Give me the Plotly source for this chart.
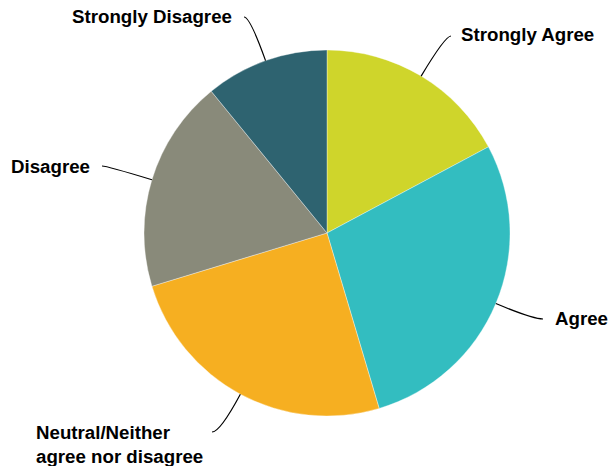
import math
import plotly.graph_objects as go

labels = ["Strongly Agree", "Agree", "Neutral/Neither<br>agree nor disagree", "Disagree", "Strongly Disagree"]
values = [17.2, 28.2, 24.9, 18.8, 10.9]
colors = ["#CFD52B", "#33BDC0", "#F6AF21", "#898A7A", "#2E6370"]

W, H = 610, 466
CX, CY, R = 327, 233, 183  # pixels

# label end points of leader lines (pixels) and anchor info (layout)
ends = [(451, 36), (543, 319), (212, 432), (102, 166), (244, 17)]
anchors = ["left", "left", "right", "right", "right"]
label_pos = [(459, 35), (553, 318), (205, 444), (92, 166), (234, 17)]

def px(x):
    return x / W

def py(y):
    return 1 - y / H

fig = go.Figure()
fig.add_trace(go.Pie(
    labels=labels, values=values, sort=False, direction="clockwise", rotation=0,
    marker=dict(colors=colors, line=dict(color="rgba(255,255,255,0.6)", width=0.6)),
    textinfo="none", hoverinfo="label+percent", showlegend=False,
    domain=dict(x=[px(CX - R), px(CX + R)], y=[py(CY + R), py(CY - R)]),
))

total = sum(values)
cum = 0
shapes = []
annotations = []
for i, v in enumerate(values):
    mid = (cum + v / 2) / total * 2 * math.pi
    cum += v
    dx, dy = math.sin(mid), -math.cos(mid)
    sx, sy = CX + R * dx, CY + R * dy
    ex, ey = ends[i]
    t = (ey - sy) / dy if abs(dy) > 1e-6 else 0
    qx, qy = sx + t * dx, ey
    path = f"M {px(sx)},{py(sy)} Q {px(qx)},{py(qy)} {px(ex)},{py(ey)}"
    shapes.append(dict(type="path", path=path, xref="paper", yref="paper",
                       line=dict(color="black", width=1.2)))
    lx, ly = label_pos[i]
    annotations.append(dict(text=f"<b>{labels[i]}</b>", x=px(lx), y=py(ly), xref="paper", yref="paper",
                            xanchor=anchors[i], yanchor="middle", align="left", showarrow=False,
                            font=dict(family="Liberation Sans, Arial", size=18.7, color="black")))

fig.update_layout(width=W, height=H, margin=dict(l=0, r=0, t=0, b=0),
                  paper_bgcolor="white", plot_bgcolor="white",
                  shapes=shapes, annotations=annotations)
fig.write_html("out.html", config={"displayModeBar": False},
               post_script="document.body.style.margin='0px';")
